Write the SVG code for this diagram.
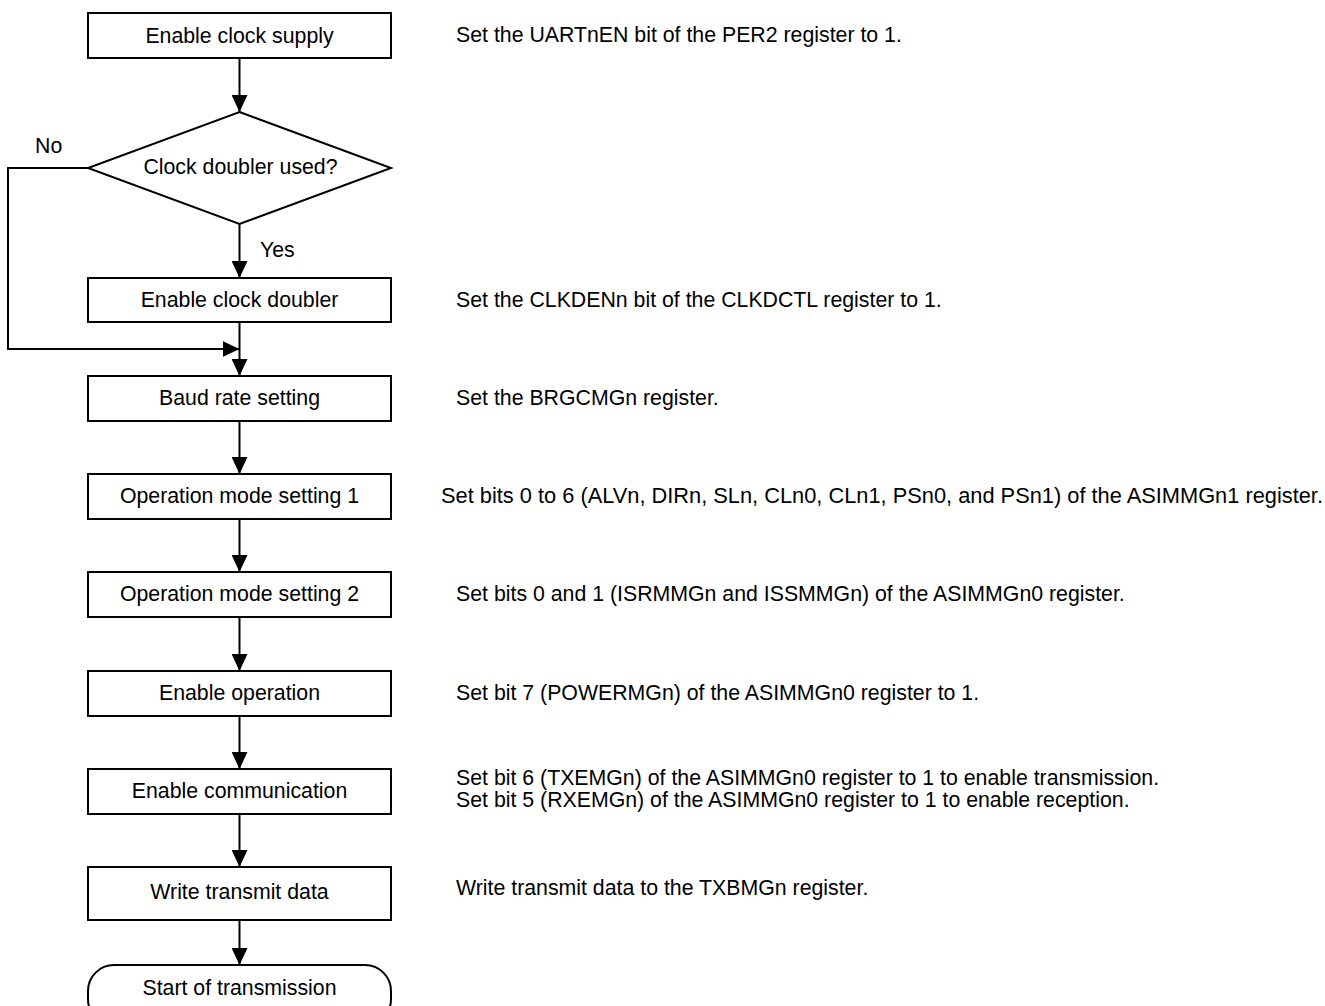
<svg xmlns="http://www.w3.org/2000/svg" width="1325" height="1006" viewBox="0 0 1325 1006">
<style>
.box{fill:#fff;stroke:#000;stroke-width:2}
.t{font-family:"Liberation Sans",Arial,sans-serif;font-size:21.3px;fill:#000}
.c{text-anchor:middle}
.ln{fill:none;stroke:#000;stroke-width:2}
</style>
<defs>
<marker id="ah" markerUnits="userSpaceOnUse" markerWidth="18" markerHeight="16" refX="17" refY="8" orient="auto">
<path d="M0,0 L17,8 L0,16 z" fill="#000"/>
</marker>
</defs>
<rect width="1325" height="1006" fill="#fff"/>
<g id="connectors">
<line class="ln" x1="239.5" y1="58" x2="239.5" y2="112" marker-end="url(#ah)"/>
<line class="ln" x1="239.5" y1="224" x2="239.5" y2="278" marker-end="url(#ah)"/>
<line class="ln" x1="239.5" y1="322" x2="239.5" y2="376" marker-end="url(#ah)"/>
<polyline class="ln" points="88,168 8,168 8,349 239.5,349" marker-end="url(#ah)"/>
<line class="ln" x1="239.5" y1="421" x2="239.5" y2="474" marker-end="url(#ah)"/>
<line class="ln" x1="239.5" y1="519" x2="239.5" y2="572" marker-end="url(#ah)"/>
<line class="ln" x1="239.5" y1="617" x2="239.5" y2="671" marker-end="url(#ah)"/>
<line class="ln" x1="239.5" y1="716" x2="239.5" y2="769" marker-end="url(#ah)"/>
<line class="ln" x1="239.5" y1="814" x2="239.5" y2="867" marker-end="url(#ah)"/>
<line class="ln" x1="239.5" y1="920" x2="239.5" y2="965" marker-end="url(#ah)"/>
<text class="t" x="35" y="153">No</text>
<text class="t" x="260" y="257">Yes</text>
</g>
<g id="n1"><rect class="box" x="88" y="13" width="303" height="45"/><text class="t c" x="239.5" y="43">Enable clock supply</text></g>
<g id="n2"><polygon class="box" points="239.5,112 391,168 239.5,224 88,168"/><text class="t c" x="240.5" y="174">Clock doubler used?</text></g>
<g id="n3"><rect class="box" x="88" y="278" width="303" height="44"/><text class="t c" x="239.5" y="307">Enable clock doubler</text></g>
<g id="n4"><rect class="box" x="88" y="376" width="303" height="45"/><text class="t c" x="239.5" y="405">Baud rate setting</text></g>
<g id="n5"><rect class="box" x="88" y="474" width="303" height="45"/><text class="t c" x="239.5" y="503">Operation mode setting 1</text></g>
<g id="n6"><rect class="box" x="88" y="572" width="303" height="45"/><text class="t c" x="239.5" y="601">Operation mode setting 2</text></g>
<g id="n7"><rect class="box" x="88" y="671" width="303" height="45"/><text class="t c" x="239.5" y="700">Enable operation</text></g>
<g id="n8"><rect class="box" x="88" y="769" width="303" height="45"/><text class="t c" x="239.5" y="798">Enable communication</text></g>
<g id="n9"><rect class="box" x="88" y="867" width="303" height="53"/><text class="t c" x="239.5" y="899">Write transmit data</text></g>
<g id="n10"><rect class="box" x="88" y="965" width="303" height="60" rx="26" ry="26"/><text class="t c" x="239.5" y="995">Start of transmission</text></g>
<g id="notes">
<text class="t" x="456" y="42">Set the UARTnEN bit of the PER2 register to 1.</text>
<text class="t" x="456" y="307">Set the CLKDENn bit of the CLKDCTL register to 1.</text>
<text class="t" x="456" y="405">Set the BRGCMGn register.</text>
<text class="t" x="441" y="503" textLength="882" lengthAdjust="spacingAndGlyphs">Set bits 0 to 6 (ALVn, DIRn, SLn, CLn0, CLn1, PSn0, and PSn1) of the ASIMMGn1 register.</text>
<text class="t" x="456" y="601">Set bits 0 and 1 (ISRMMGn and ISSMMGn) of the ASIMMGn0 register.</text>
<text class="t" x="456" y="700">Set bit 7 (POWERMGn) of the ASIMMGn0 register to 1.</text>
<text class="t" x="456" y="785">Set bit 6 (TXEMGn) of the ASIMMGn0 register to 1 to enable transmission.</text>
<text class="t" x="456" y="807">Set bit 5 (RXEMGn) of the ASIMMGn0 register to 1 to enable reception.</text>
<text class="t" x="456" y="895">Write transmit data to the TXBMGn register.</text>
</g>
</svg>
